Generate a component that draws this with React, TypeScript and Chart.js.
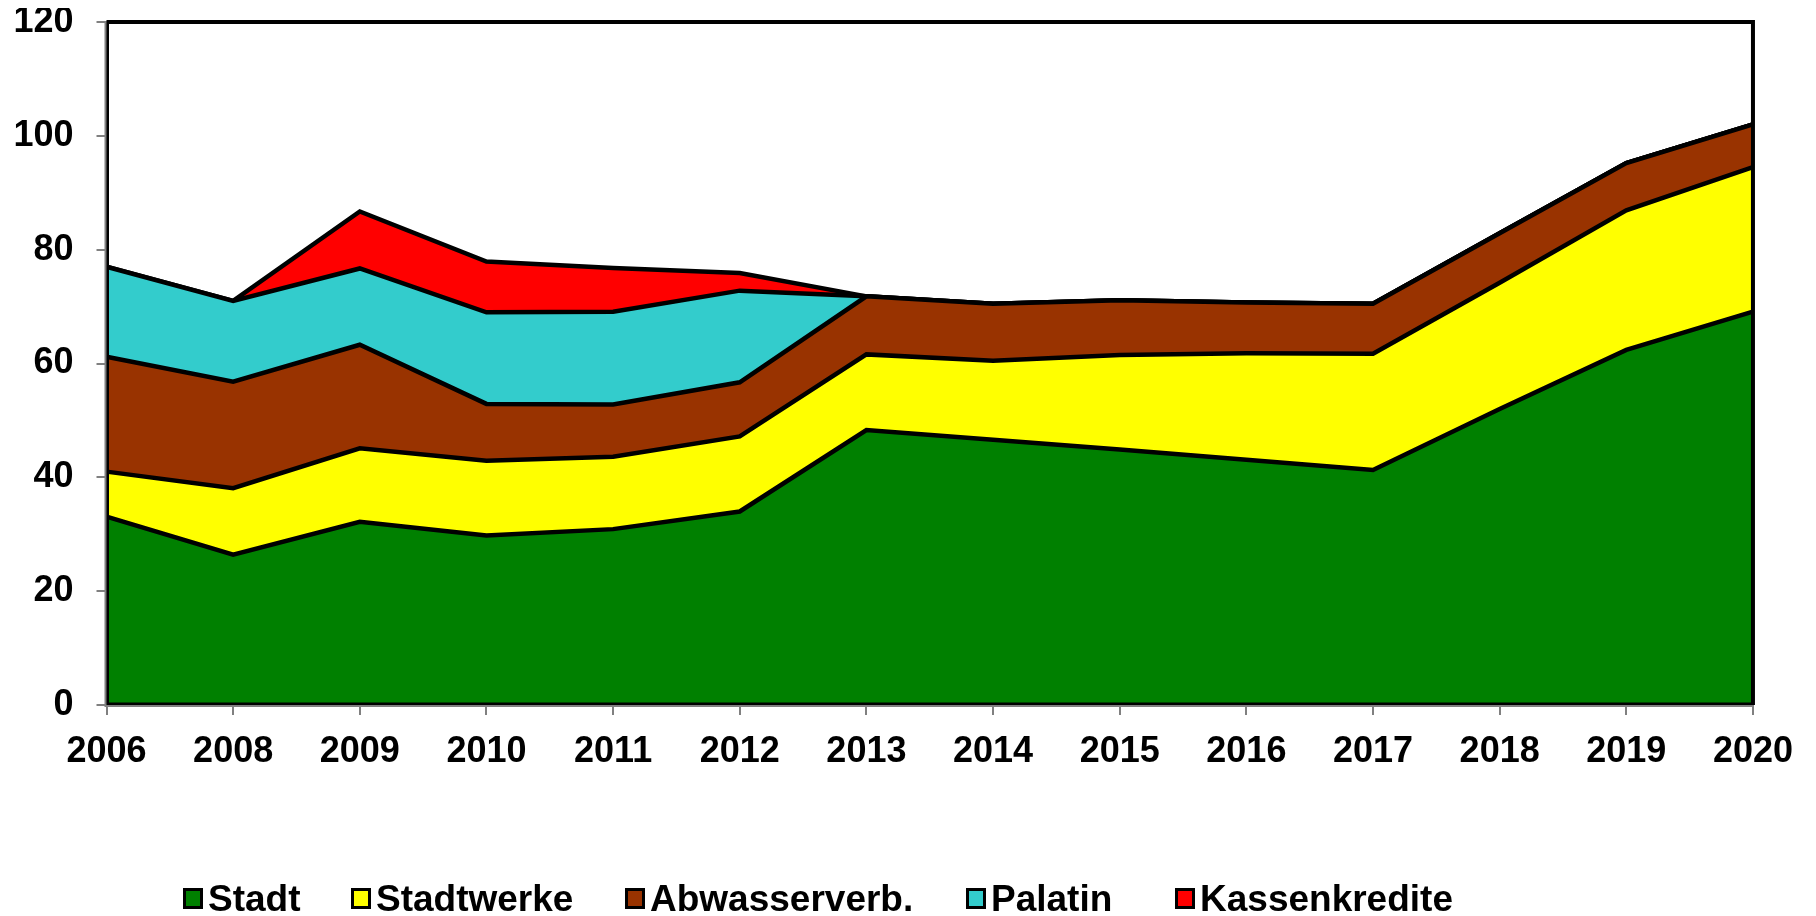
import React, { useEffect, useRef } from "react";
import { Chart, registerables } from "chart.js";

Chart.register(...registerables);

const years = ["2006", "2008", "2009", "2010", "2011", "2012", "2013", "2014", "2015", "2016", "2017", "2018", "2019", "2020"];
const stadt = [33.1, 26.4, 32.2, 29.8, 30.9, 34.0, 48.3, 46.6, 44.9, 43.1, 41.3, 52.0, 62.4, 69.1];
const stadtwerke = [7.9, 11.7, 12.9, 13.1, 12.7, 13.2, 13.3, 13.9, 16.6, 18.7, 20.4, 22.2, 24.5, 25.4];
const abwasser = [20.2, 18.7, 18.2, 10.0, 9.2, 9.5, 10.2, 10.0, 9.6, 8.9, 8.8, 8.7, 8.3, 7.5];
const palatin = [15.8, 14.2, 13.4, 16.1, 16.3, 16.1, 0, 0, 0, 0, 0, 0, 0, 0];
const kassenkredite = [0, 0, 10.0, 8.9, 7.7, 3.1, 0, 0, 0, 0, 0, 0, 0, 0];

const seriesNames = ["Stadt", "Stadtwerke", "Abwasserverb.", "Palatin", "Kassenkredite"];
const seriesColors = ["#008000", "#FFFF00", "#993300", "#33CCCC", "#FF0000"];
const seriesValues = [stadt, stadtwerke, abwasser, palatin, kassenkredite];

const Y_MIN = 0;
const Y_MAX = 120;
const Y_STEP = 20;

const FONT = "'Liberation Sans', Arial, Helvetica, sans-serif";
const LEGEND_LEFTS = [183, 351, 625, 966, 1175];

const framePlugin = {
  id: "frame",
  afterDatasetsDraw(chart: any) {
    const { ctx, chartArea } = chart;
    const { left, right, top, bottom } = chartArea;
    ctx.save();
    ctx.strokeStyle = "#000000";
    ctx.lineWidth = 4;
    ctx.beginPath();
    ctx.moveTo(left, top);
    ctx.lineTo(right, top);
    ctx.lineTo(right, bottom);
    ctx.stroke();
    ctx.lineWidth = 3;
    ctx.beginPath();
    ctx.moveTo(left + 1, top);
    ctx.lineTo(left + 1, bottom - 1);
    ctx.lineTo(right, bottom - 1);
    ctx.stroke();
    ctx.strokeStyle = "#808080";
    ctx.lineWidth = 2;
    ctx.beginPath();
    ctx.moveTo(left - 1, top);
    ctx.lineTo(left - 1, bottom + 1);
    ctx.lineTo(right, bottom + 1);
    ctx.stroke();
    ctx.restore();
  },
};

export default function App() {
  const canvasRef = useRef<HTMLCanvasElement | null>(null);

  useEffect(() => {
    if (!canvasRef.current) return;
    const datasets = seriesNames.map((name, i) => ({
      label: name,
      data: seriesValues[i],
      backgroundColor: seriesColors[i],
      borderColor: "#000000",
      borderWidth: 4.5,
      pointRadius: 0,
      pointHoverRadius: 0,
      tension: 0,
      fill: i === 0 ? "origin" : "-1",
      borderJoinStyle: "miter" as const,
    }));

    const chart = new Chart(canvasRef.current, {
      type: "line",
      data: { labels: years, datasets },
      plugins: [framePlugin],
      options: {
        animation: false,
        responsive: false,
        devicePixelRatio: 1,
        events: [],
        layout: { padding: { left: 0, top: 14, right: 52, bottom: 0 } },
        plugins: {
          legend: { display: false },
          tooltip: { enabled: false },
          title: { display: false },
        },
        scales: {
          x: {
            offset: false,
            grid: {
              display: true,
              drawOnChartArea: false,
              drawTicks: true,
              tickLength: 10,
              color: "#808080",
              lineWidth: 2,
            },
            border: { display: false },
            ticks: {
              color: "#000000",
              font: { family: FONT, size: 36, weight: "bold", lineHeight: 1.2 },
              padding: 15,
              maxRotation: 0,
              autoSkip: false,
            },
            afterFit: (scale: any) => {
              scale.height = 203;
            },
          },
          y: {
            stacked: true,
            min: Y_MIN,
            max: Y_MAX,
            grid: {
              display: true,
              drawOnChartArea: false,
              drawTicks: true,
              tickLength: 10,
              color: "#808080",
              lineWidth: 2,
            },
            border: { display: false },
            ticks: {
              stepSize: Y_STEP,
              color: "#000000",
              font: { family: FONT, size: 36, weight: "bold", lineHeight: 0.7 },
              padding: 23,
            },
            afterFit: (scale: any) => {
              scale.width = 98.5;
              scale.paddingTop = 0;
              scale.paddingBottom = 0;
            },
          },
        },
      },
    });
    return () => chart.destroy();
  }, []);

  return (
    <div style={{ position: "relative", width: 1816, height: 916, overflow: "hidden", background: "#ffffff" }}>
      <style>{"html, body { margin: 0; padding: 0; overflow: hidden; }"}</style>
      <canvas
        ref={canvasRef}
        width={1800}
        height={900}
        style={{ display: "block", position: "absolute", left: 8, top: 8 }}
      />
      {seriesNames.map((name, i) => (
        <div
          key={name}
          style={{
            position: "absolute",
            left: LEGEND_LEFTS[i],
            top: 880,
            display: "flex",
            alignItems: "center",
            columnGap: 5,
            fontFamily: FONT,
            fontWeight: "bold",
            fontSize: 37,
            lineHeight: 1,
            color: "#000000",
            whiteSpace: "nowrap",
          }}
        >
          <span
            style={{
              display: "inline-block",
              width: 20,
              height: 21,
              boxSizing: "border-box",
              border: "3px solid #000000",
              background: seriesColors[i],
            }}
          />
          <span>{name}</span>
        </div>
      ))}
    </div>
  );
}
